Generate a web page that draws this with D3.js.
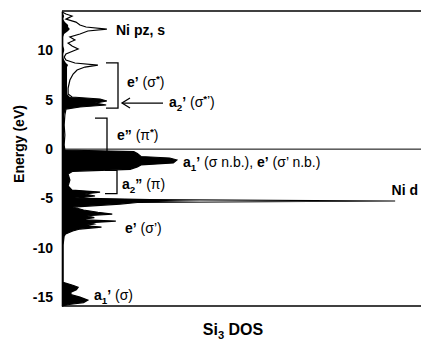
<!DOCTYPE html>
<html>
<head>
<meta charset="utf-8">
<script src="https://cdn.jsdelivr.net/npm/d3@7"></script>
<style>
  body { margin: 0; background: #fff; }
  svg { display: block; font-family: "Liberation Sans", Arial, sans-serif; }
</style>
</head>
<body>
<script>
// energy grid (eV)
const energy = [13.90, 13.69, 13.49, 13.18, 12.88, 12.58, 12.38, 12.17, 11.97, 11.67,
  11.36, 11.06, 10.75, 10.45, 10.15, 9.94, 9.64, 9.33, 9.03, 8.73,
  8.52, 8.32, 8.02, 7.61, 7.00, 6.19, 5.59, 5.28, 5.08, 4.88,
  4.67, 4.47, 4.27, 4.06, 3.46, 2.44, 1.43, 0.42, -0.09, -0.25,
  -0.45, -0.75, -0.90, -1.10, -1.40, -1.60, -1.80, -2.05, -2.25, -2.53,
  -3.14, -3.74, -4.15, -4.35, -4.55, -4.75, -4.96, -5.11, -5.26, -5.41,
  -5.57, -5.87, -6.17, -6.40, -6.58, -6.75, -6.95, -7.15, -7.29, -7.45,
  -7.59, -7.75, -7.90, -8.10, -8.30, -8.60, -8.81, -9.72, -11.24, -13.50,
  -13.80, -14.00, -14.25, -14.50, -14.75, -15.00, -15.30, -15.55, -15.75, -15.90];

// total DOS (outline)
const totalDos = [0, 1.1, 2.8, 1.1, 3.9, 5.0, 6.7, 12.5, 7.2, 5.0,
  2.2, 3.6, 1.7, 2.8, 4.5, 3.1, 1.1, 0.6, 1.1, 3.6,
  10.0, 6.4, 4.2, 3.1, 2.2, 1.7, 1.7, 2.8, 10.6, 12.5,
  9.2, 12.3, 5.0, 1.1, 0.8, 0.6, 0.8, 0.6, 0.8, 20,
  21, 22, 30, 32, 31, 22, 21, 19, 3, 1.7,
  2.2, 1.7, 2.8, 10.6, 6.4, 9.2, 3.6, 24.5, 92.8, 21.0,
  16.2, 3, 6, 10, 14, 7, 9, 5, 15, 8,
  9, 6, 11, 5, 3, 1, 0.6, 0.3, 0.3, 0.3,
  3, 4.5, 4, 2.5, 2.5, 5, 7.2, 6, 2, 0];

// Si3 projected DOS (filled)
const si3Dos = [0, 0.3, 0.6, 0.3, 0.8, 1.7, 1.7, 2.2, 1.7, 0.6,
  0.3, 0.3, 0.3, 0.3, 0.6, 0.6, 0.3, 0.3, 0.6, 1.1,
  1.7, 1.4, 1.4, 1.4, 1.4, 1.4, 1.4, 2.2, 10.6, 12.5,
  9.2, 12.3, 5.0, 1.1, 0.6, 0.6, 0.6, 0.6, 0.8, 20,
  21, 22, 30, 32, 31, 22, 21, 19, 3, 1.7,
  2.2, 1.7, 2.8, 10.6, 6.4, 9.2, 3.6, 24.5, 38.4, 21.0,
  16.2, 3, 6, 10, 14, 7, 9, 5, 15, 8,
  9, 6, 11, 5, 3, 1, 0.6, 0.3, 0.3, 0.3,
  3, 4.5, 4, 2.5, 2.5, 5, 7.2, 6, 2, 0];

const yTicks = [-15, -10, -5, 0, 5, 10];

const width = 421;
const height = 343;
const plotLeft = 62;
const plotRight = 421;
const plotTop = 11;
const plotBottom = 306;

const svg = d3.select("body").append("svg")
  .attr("width", width)
  .attr("height", height);

const x = d3.scaleLinear().domain([0, 100]).range([plotLeft, plotRight]);
const y = d3.scaleLinear().domain([-15.9, 14.0]).range([plotBottom, plotTop]);

const data = energy.map((e, i) => ({ e: e, tot: totalDos[i], si: si3Dos[i] }));

// filled Si3 DOS
svg.append("path")
  .datum(data)
  .attr("fill", "#000")
  .attr("d", d3.area().y(d => y(d.e)).x0(x(0)).x1(d => x(d.si)));

// total DOS outline
svg.append("path")
  .datum(data)
  .attr("fill", "none")
  .attr("stroke", "#000")
  .attr("stroke-width", 1.2)
  .attr("d", d3.line().y(d => y(d.e)).x(d => x(d.tot)));

// frame lines
svg.append("line")
  .attr("x1", plotLeft).attr("x2", plotRight)
  .attr("y1", plotTop).attr("y2", plotTop)
  .attr("stroke", "#000").attr("stroke-width", 1.6);
svg.append("line")
  .attr("x1", plotLeft).attr("x2", plotRight)
  .attr("y1", plotBottom).attr("y2", plotBottom)
  .attr("stroke", "#000").attr("stroke-width", 1.6);
// Fermi level
svg.append("line")
  .attr("x1", plotLeft).attr("x2", plotRight)
  .attr("y1", y(0)).attr("y2", y(0))
  .attr("stroke", "#000").attr("stroke-width", 1);

// y axis
const yAxis = svg.append("g")
  .attr("transform", "translate(" + plotLeft + ",0)")
  .call(d3.axisLeft(y).tickValues(yTicks).tickSize(0).tickPadding(9).tickFormat(d => String(d)));
yAxis.select(".domain").attr("stroke-width", 1.6);
yAxis.selectAll("text")
  .attr("font-family", "'Liberation Sans', Arial, sans-serif")
  .attr("font-size", 14)
  .attr("font-weight", "bold")
  .attr("fill", "#000");

svg.append("text")
  .attr("transform", "translate(24," + 144 + ") rotate(-90)")
  .attr("text-anchor", "middle")
  .attr("font-size", 14)
  .attr("font-weight", "bold")
  .text("Energy (eV)");

// label helper: segments [text, kind] with kind b=bold, r=regular, sub, sup
function label(px, py, segs, anchor, size) {
  const fs = size || 14;
  const t = svg.append("text")
    .attr("x", px).attr("y", py)
    .attr("font-size", fs)
    .attr("text-anchor", anchor || "start");
  let shift = 0;
  segs.forEach(s => {
    const ts = t.append("tspan").text(s[0]);
    let target = 0;
    if (s[1] === "sub") target = Math.round(fs * 0.25);
    if (s[1] === "sup") target = -5;
    ts.attr("dy", target - shift);
    shift = target;
    if (s[1] === "r") ts.attr("font-weight", "normal");
    else ts.attr("font-weight", "bold");
    if (s[1] === "sub" || s[1] === "sup") ts.attr("font-size", fs * 0.7);
  });
  return t;
}

label(116, 35, [["Ni pz, s", "b"]]);
label(127, 87, [["e’", "b"], [" (σ", "r"], ["*", "sup"], [")", "r"]]);
label(169, 107, [["a", "b"], ["2", "sub"], ["’", "b"], [" (σ", "r"], ["*’", "sup"], [")", "r"]]);
label(117, 140, [["e”", "b"], [" (π", "r"], ["*", "sup"], [")", "r"]]);
label(183, 167, [["a", "b"], ["1", "sub"], ["’", "b"], [" (σ n.b.), ", "r"], ["e’", "b"], [" (σ’ n.b.)", "r"]]);
label(122, 189, [["a", "b"], ["2", "sub"], ["”", "b"], [" (π)", "r"]]);
label(418, 195, [["Ni d", "b"]], "end");
label(125, 233, [["e’", "b"], [" (σ’)", "r"]]);
label(94, 300, [["a", "b"], ["1", "sub"], ["’", "b"], [" (σ)", "r"]]);
label(233, 335, [["Si", "b"], ["3", "sub"], [" DOS", "b"]], "middle", 16);

// brackets
function bracket(x0, x1, eTop, eBot) {
  svg.append("path")
    .attr("fill", "none").attr("stroke", "#000").attr("stroke-width", 1.3)
    .attr("d", "M" + x0 + "," + y(eTop) + "H" + x1 + "V" + y(eBot) + "H" + x0);
}
bracket(106, 118, 8.75, 4.15);
bracket(95, 107, 3.15, -0.40);
bracket(105, 117, -2.15, -4.50);

// arrow to a2' peak
const ay = y(4.67);
svg.append("line")
  .attr("x1", 163).attr("x2", 122).attr("y1", ay).attr("y2", ay)
  .attr("stroke", "#000").attr("stroke-width", 1.3);
svg.append("path")
  .attr("fill", "none").attr("stroke", "#000").attr("stroke-width", 1.3)
  .attr("d", "M130," + (ay - 5) + "L122," + ay + "L130," + (ay + 5));
</script>
</body>
</html>
